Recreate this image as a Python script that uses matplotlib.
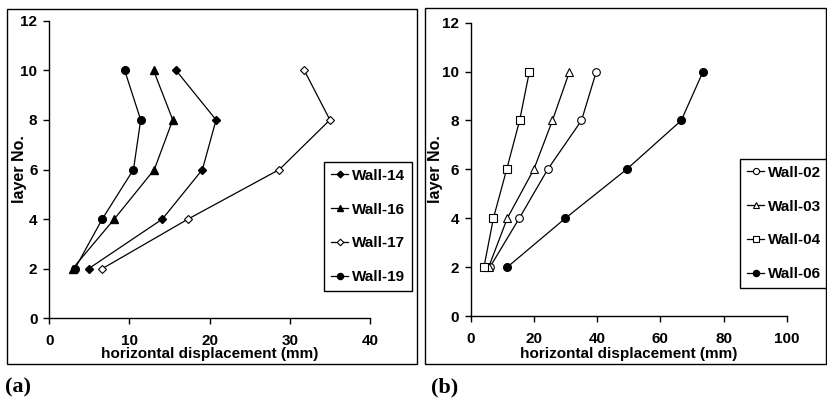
import matplotlib
matplotlib.use("Agg")
import matplotlib.pyplot as plt
from matplotlib.patches import Rectangle

plt.rcParams['font.family'] = ['Liberation Sans', 'DejaVu Sans']
plt.rcParams['font.weight'] = 'bold'

layers = [2, 4, 6, 8, 10]

# Panel (a)
wall14 = [4.9, 14.1, 19.1, 20.8, 15.8]
wall16 = [2.9, 8.1, 13.1, 15.4, 13.0]
wall17 = [6.6, 17.3, 28.7, 35.0, 31.8]
wall19 = [3.2, 6.6, 10.5, 11.4, 9.4]

# Panel (b)
wall02 = [6.0, 15.3, 24.3, 35.0, 39.7]
wall03 = [5.6, 11.5, 19.9, 25.8, 31.2]
wall04 = [4.1, 7.1, 11.3, 15.4, 18.5]
wall06 = [11.5, 29.9, 49.3, 66.6, 73.5]

W, H = 827, 399
fig = plt.figure(figsize=(W/100, H/100), dpi=100)

def fx(px): return px / W
def fy(py): return 1 - py / H

# outer boxes
for (x0, y0, x1, y1) in [(7, 9, 417, 364), (425, 8, 826, 364)]:
    fig.patches.append(Rectangle((fx(x0), fy(y1)), fx(x1) - fx(x0), fy(y0) - fy(y1),
                                 transform=fig.transFigure, fill=False, edgecolor='black', lw=1.0))

axA = fig.add_axes([fx(49.3), fy(318.3), fx(370) - fx(49.3), fy(20.7) - fy(318.3)])
axB = fig.add_axes([fx(471), fy(316), fx(786.7) - fx(471), fy(22.7) - fy(316)])

lw = 0.9
axA.plot(wall14, layers, '-D', color='black', mfc='black', ms=4.2, lw=lw, label='Wall-14')
axA.plot(wall16, layers, '-^', color='black', mfc='black', ms=5.5, lw=lw, label='Wall-16')
axA.plot(wall17, layers, '-D', color='black', mfc='white', ms=4.2, mew=0.8, lw=lw, label='Wall-17')
axA.plot(wall19, layers, '-o', color='black', mfc='black', ms=5.5, lw=lw, label='Wall-19')

axB.plot(wall02, layers, '-o', color='black', mfc='white', ms=5.5, mew=0.8, lw=lw, label='Wall-02')
axB.plot(wall03, layers, '-^', color='black', mfc='white', ms=5.5, mew=0.8, lw=lw, label='Wall-03')
axB.plot(wall04, layers, '-s', color='black', mfc='white', ms=5.5, mew=0.8, lw=lw, label='Wall-04')
axB.plot(wall06, layers, '-o', color='black', mfc='black', ms=5.5, lw=lw, label='Wall-06')

panels = [
    (axA, 40, [0, 10, 20, 30, 40], 318.3, 20.7, 49.3, 370, 27),
    (axB, 100, [0, 20, 40, 60, 80, 100], 316, 22.7, 471, 786.7, 443),
]
for ax, xmax, xt, yb, yt, xl, xr, ylab_right in panels:
    ax.set_xlim(0, xmax)
    ax.set_ylim(0, 12)
    ax.set_xticks(xt)
    ax.set_yticks([0, 2, 4, 6, 8, 10, 12])
    ax.spines['top'].set_visible(False)
    ax.spines['right'].set_visible(False)
    ax.spines['left'].set_linewidth(1.0)
    ax.spines['bottom'].set_linewidth(1.0)
    ax.tick_params(direction='out', length=4, width=1.0, labelsize=11)
    ax.tick_params(axis='x', pad=7.5)
    ax.tick_params(axis='y', pad=4.5)
    for lab in ax.get_xticklabels() + ax.get_yticklabels():
        lab.set_fontweight('bold')
    ax.set_xlabel('horizontal displacement (mm)', fontsize=11, fontweight='bold', va='center')
    ax.xaxis.set_label_coords(0.5, -(354 - yb) / (yb - yt))
    ax.set_ylabel('layer No.', fontsize=11.5, fontweight='bold')
    ax.yaxis.set_label_coords(-(xl - ylab_right) / (xr - xl), 0.5)
    ax.patch.set_alpha(0)

leg_kw = dict(loc='center', bbox_transform=fig.transFigure,
              frameon=True, fancybox=False, edgecolor='black', framealpha=1,
              handlelength=1.1, handletextpad=0.25, labelspacing=1.3, borderpad=0.45,
              markerscale=0.8, prop={'weight': 'bold', 'size': 11})
legA = axA.legend(bbox_to_anchor=(fx(368), fy(226.5)), **leg_kw)
legB = axB.legend(bbox_to_anchor=(fx(784), fy(223.5)), **leg_kw)
for leg in (legA, legB):
    leg.get_frame().set_linewidth(1.0)

fig.text(fx(5), fy(387), '(a)', family=['Liberation Serif', 'DejaVu Serif'], fontweight='bold',
         fontsize=16, va='center', ha='left')
fig.text(fx(431), fy(387), '(b)', family=['Liberation Serif', 'DejaVu Serif'], fontweight='bold',
         fontsize=16, va='center', ha='left')

fig.savefig('out.png', dpi=100)
